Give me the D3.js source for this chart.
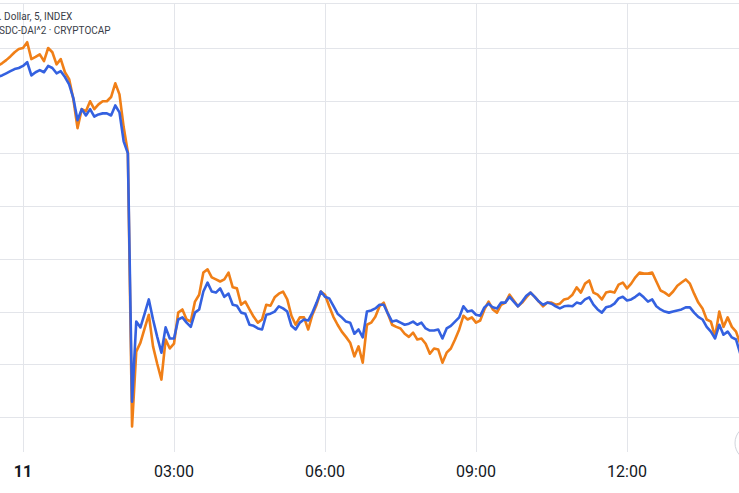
<!DOCTYPE html>
<html>
<head>
<meta charset="utf-8">
<script src="https://cdn.jsdelivr.net/npm/d3@7"></script>
<style>
  html, body { margin: 0; padding: 0; background: #ffffff; overflow: hidden; }
  svg { display: block; }
</style>
</head>
<body>
<svg id="chart" width="739" height="493"></svg>
<script>
// ---- data (5-minute bars, starting 10 Mar 23:30) ----
const startTime = new Date(2023, 2, 10, 23, 30);
const stepMinutes = 5;
const legendLines = [". Dollar, 5, INDEX", "SDC-DAI^2 \u00b7 CRYPTOCAP"];
const tickTimes = [new Date(2023, 2, 11, 0, 0), new Date(2023, 2, 11, 3, 0), new Date(2023, 2, 11, 6, 0), new Date(2023, 2, 11, 9, 0), new Date(2023, 2, 11, 12, 0)];
const tickLabels = ["11", "03:00", "06:00", "09:00", "12:00"];
const gridValues = [0.88, 0.89, 0.90, 0.91, 0.92, 0.93, 0.94, 0.95];

const usdIndex = [
  0.9445,0.9448,0.9452,0.9456,0.9460,0.9462,
  0.9466,0.9473,0.9448,0.9454,0.9458,0.9454,0.9466,0.9462,0.9452,0.9456,
  0.9445,0.9431,0.9405,0.9363,0.9384,0.9372,0.9384,0.9370,0.9374,0.9376,
  0.9376,0.9372,0.9391,0.9378,0.9323,0.9300,0.8829,0.8981,0.8970,0.8996,
  0.9023,0.8985,0.8952,0.8922,0.8970,0.8949,0.8949,0.8985,0.8989,0.8979,
  0.8971,0.8998,0.9004,0.9038,0.9055,0.9038,0.9036,0.9044,0.9028,0.9034,
  0.9013,0.9011,0.8998,0.8996,0.8975,0.8973,0.8968,0.8966,0.8994,0.8996,
  0.9000,0.9010,0.9006,0.9000,0.8973,0.8966,0.8979,0.8985,0.8983,0.8998,
  0.9017,0.9038,0.9028,0.9025,0.9011,0.8996,0.8989,0.8981,0.8979,0.8958,
  0.8966,0.8951,0.9000,0.9002,0.9006,0.9013,0.9013,0.8996,0.8981,0.8983,
  0.8979,0.8975,0.8977,0.8981,0.8975,0.8979,0.8968,0.8964,0.8964,0.8966,
  0.8949,0.8968,0.8973,0.8981,0.8989,0.9010,0.9000,0.9002,0.8994,0.8992,
  0.9008,0.9015,0.9008,0.9006,0.9017,0.9017,0.9028,0.9019,0.9010,0.9019,
  0.9030,0.9036,0.9028,0.9019,0.9013,0.9017,0.9015,0.9010,0.9006,0.9010,
  0.9011,0.9010,0.9017,0.9015,0.9023,0.9027,0.9013,0.9004,0.8998,0.9008,
  0.9010,0.9015,0.9025,0.9028,0.9021,0.9023,0.9028,0.9034,0.9027,0.9019,
  0.9023,0.9010,0.9004,0.9000,0.8998,0.9000,0.9002,0.9004,0.9008,0.9008,
  0.8998,0.8990,0.8985,0.8971,0.8962,0.8949,0.8975,0.8956,0.8962,0.8951,
  0.8947,0.8920
];

const usdcDai2 = [
  0.9466,0.9471,0.9477,0.9484,0.9492,0.9498,
  0.9500,0.9511,0.9479,0.9483,0.9488,0.9475,0.9500,0.9492,0.9469,0.9479,
  0.9454,0.9441,0.9403,0.9348,0.9384,0.9380,0.9399,0.9384,0.9393,0.9399,
  0.9399,0.9407,0.9433,0.9412,0.9350,0.9302,0.8782,0.8924,0.8941,0.8968,
  0.8994,0.8934,0.8901,0.8871,0.8947,0.8930,0.8939,0.8998,0.9004,0.8985,
  0.8981,0.9019,0.9032,0.9074,0.9080,0.9065,0.9061,0.9057,0.9061,0.9074,
  0.9046,0.9044,0.9013,0.9019,0.9004,0.8990,0.8979,0.8985,0.9013,0.9011,
  0.9027,0.9034,0.9038,0.9023,0.8992,0.8975,0.8989,0.8989,0.8966,0.8994,
  0.9013,0.9038,0.9032,0.9010,0.8990,0.8975,0.8962,0.8952,0.8941,0.8915,
  0.8934,0.8903,0.8975,0.8979,0.8990,0.9010,0.9017,0.8996,0.8975,0.8971,
  0.8968,0.8958,0.8952,0.8960,0.8947,0.8949,0.8939,0.8920,0.8930,0.8928,
  0.8903,0.8922,0.8930,0.8947,0.8966,0.8992,0.8985,0.8989,0.8979,0.8983,
  0.9004,0.9019,0.9004,0.8998,0.9013,0.9017,0.9032,0.9021,0.9010,0.9017,
  0.9027,0.9036,0.9028,0.9019,0.9010,0.9017,0.9017,0.9013,0.9015,0.9023,
  0.9025,0.9032,0.9046,0.9036,0.9053,0.9059,0.9036,0.9032,0.9023,0.9036,
  0.9038,0.9036,0.9051,0.9055,0.9044,0.9053,0.9065,0.9074,0.9072,0.9072,
  0.9074,0.9057,0.9040,0.9036,0.9030,0.9038,0.9049,0.9055,0.9061,0.9053,
  0.9034,0.9017,0.9006,0.8985,0.8981,0.8952,0.9000,0.8971,0.8989,0.8971,
  0.8962,0.8939
];

// ---- layout ----
const W = 739, H = 493;
const plotBottom = 452;
const svg = d3.select("#chart");

const times = usdIndex.map((_, i) => d3.timeMinute.offset(startTime, i * stepMinutes));

const x = d3.scaleTime()
  .domain([new Date(2023, 2, 11, 0, 0), new Date(2023, 2, 11, 15, 0)])
  .range([23, 23 + 151 * 5]);
const y = d3.scaleLinear().domain([0.88, 0.95]).range([417, 48]);

const gridColor = "#e3e5ea";

// horizontal grid
svg.append("g").selectAll("line").data(gridValues).join("line")
  .attr("x1", 0).attr("x2", W)
  .attr("y1", d => Math.round(y(d)) + 0.5).attr("y2", d => Math.round(y(d)) + 0.5)
  .attr("stroke", gridColor).attr("stroke-width", 1);

// top pane border
svg.append("line").attr("x1", 0).attr("x2", W).attr("y1", 3.5).attr("y2", 3.5)
  .attr("stroke", gridColor).attr("stroke-width", 1);

// vertical grid
svg.append("g").selectAll("line").data(tickTimes).join("line")
  .attr("x1", d => Math.round(x(d)) + 0.5).attr("x2", d => Math.round(x(d)) + 0.5)
  .attr("y1", 3).attr("y2", plotBottom)
  .attr("stroke", gridColor).attr("stroke-width", 1);

// series
const line = d3.line().x((d, i) => x(times[i])).y(d => y(d)).curve(d3.curveLinear);

svg.append("path").datum(usdcDai2)
  .attr("d", line).attr("fill", "none")
  .attr("stroke", "#f07f17").attr("stroke-width", 2.6).attr("stroke-linejoin", "round");

svg.append("path").datum(usdIndex)
  .attr("d", line).attr("fill", "none")
  .attr("stroke", "#3461e0").attr("stroke-width", 2.6).attr("stroke-linejoin", "round");

// legend
svg.append("g").selectAll("text").data(legendLines).join("text")
  .attr("x", -1).attr("y", (d, i) => 19.5 + i * 14)
  .attr("font-family", "Roboto, sans-serif").attr("font-size", 10)
  .attr("fill", "#3a3e48")
  .text(d => d);

// time axis labels
svg.append("g").selectAll("text").data(tickTimes).join("text")
  .attr("x", d => x(d)).attr("y", 477)
  .attr("text-anchor", "middle")
  .attr("font-family", "Roboto, sans-serif").attr("font-size", 16)
  .attr("font-weight", (d, i) => i === 0 ? "bold" : "normal")
  .attr("fill", "#131722")
  .text((d, i) => tickLabels[i]);

// partial round button at bottom-right edge
svg.append("circle").attr("cx", 753).attr("cy", 443).attr("r", 18)
  .attr("fill", "#ffffff").attr("stroke", "#d1d4dc").attr("stroke-width", 1);
</script>
</body>
</html>
